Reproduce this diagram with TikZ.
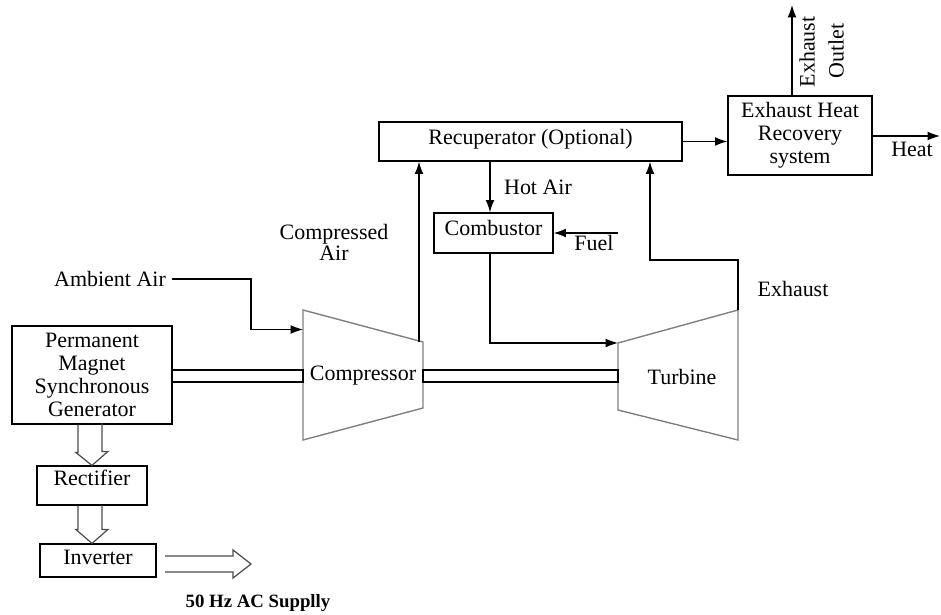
\documentclass[tikz,border=0pt]{standalone}
\usepackage{fontspec}
\setmainfont{Liberation Serif}
\usetikzlibrary{arrows.meta,calc}

\begin{document}
\begin{tikzpicture}[x=0.02cm, y=-0.02cm, line width=0.7pt,
    font=\fontsize{12.5}{13}\selectfont,
    >={Latex[length=7pt,width=5pt]},
    blk/.style={draw=black, inner sep=0pt, align=center},
    machine/.style={draw=gray, line width=0.8pt},
    hollow/.style={draw=black!70, line width=0.7pt}]
\useasboundingbox (0,0) rectangle (941,615);
% blocks
\node[blk, minimum width=6.06cm, minimum height=0.78cm, text depth=0.2cm] (recup) at (530.5,141.5) {Recuperator (Optional)};
\node[blk, minimum width=2.88cm, minimum height=1.58cm] (ehr) at (800,135.5) {Exhaust Heat\\Recovery\\system};
\node[blk, minimum width=2.38cm, minimum height=0.8cm, text depth=0.2cm] (comb) at (493.5,233) {Combustor};
\node[blk, minimum width=3.2cm, minimum height=1.96cm] (gen) at (92,375) {Permanent\\Magnet\\Synchronous\\Generator};
\node[blk, minimum width=2.2cm, minimum height=0.78cm, text depth=0.3cm] (rect) at (92,485.5) {Rectifier};
\node[blk, minimum width=2.32cm, minimum height=0.66cm, text depth=0.12cm] (inv) at (98,560.5) {Inverter};
% compressor and turbine
\coordinate (ctl) at (303,310);
\coordinate (ctr) at (423,342);
\coordinate (cbr) at (423,408);
\coordinate (cbl) at (303,440);
\coordinate (ttl) at (618,343);
\coordinate (ttr) at (738,310);
\coordinate (tbr) at (738,440);
\coordinate (tbl) at (618,410);
\draw[machine] (ctl) -- (ctr) -- (cbr) -- (cbl) -- cycle;
\draw[machine] (ttl) -- (ttr) -- (tbr) -- (tbl) -- cycle;
\node (comp) at (363,376) {Compressor};
\node (turb) at (682,377) {Turbine};
% shaft
\draw (gen.east |- 0,370) rectangle (ctl |- 0,382);
\draw (ctr |- 0,370) rectangle (ttl |- 0,382);
% labels
\node (amb) at (110,279) {Ambient Air};
\node[align=center] (cair) at (334,242) {Compressed\\[-1pt]Air};
\node (hot) at (538,187) {Hot Air};
\node (fuel) at (594,243) {Fuel};
\node (exh) at (793,289) {Exhaust};
\node (heat) at (912,149) {Heat};
\node[rotate=90] (exo1) at (807,52) {Exhaust};
\node[rotate=90] (exo2) at (836,51) {Outlet};
\node[font=\fontsize{10.7}{12}\selectfont\bfseries] (ac) at (258,603) {50 Hz AC Supplly};
% free ends
\coordinate (cout) at (419,342);
\coordinate (fuelin) at (618,233);
\coordinate (outlet) at (792,5);
\coordinate (heatout) at (940,136);
\coordinate (actip) at (251,564);
% connectors
\draw[->] (amb.east) -- (251,279) |- ($(ctl)!0.15!(cbl)$);
\draw[->] (cout) -- (cout |- recup.south);
\draw[->] (recup.south -| 490,0) -- (comb.north -| 490,0);
\draw[->] (fuelin) -- (comb.east |- fuelin);
\draw[->] (comb.south -| 490,0) |- (ttl);
\draw[->] (ttr) -- ++(0,-50) -| (recup.south -| 650,0);
\draw[->] (recup.east) -- (recup.east -| ehr.west);
\draw[->] (ehr.north -| outlet) -- (outlet);
\draw[->] (ehr.east |- heatout) -- (heatout);
% hollow arrows
\draw[hollow] ($(gen.south)+(-14,0)$) -- ++(0,28) -- ++(-2,0) -- (rect.north) -- ++(16,-14) -- ++(-6,0) -- ++(0,-28);
\draw[hollow] ($(rect.south)+(-14,0)$) -- ++(0,24) -- ++(-2,0) -- (inv.north -| rect.south) -- ++(16,-14) -- ++(-6,0) -- ++(0,-24);
\draw[hollow] (165,556) -- (233,556) -- (233,550) -- (actip) -- (233,578) -- (233,572) -- (165,572);
\end{tikzpicture}
\end{document}
